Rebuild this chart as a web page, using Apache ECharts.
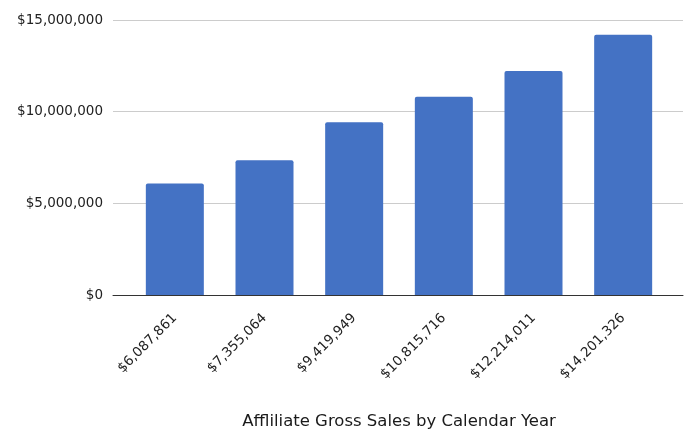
<!DOCTYPE html>
<html><head><meta charset="utf-8">
<script src="https://cdn.jsdelivr.net/npm/echarts@6/dist/echarts.min.js"></script>
<style>html,body{margin:0;padding:0;background:#fff}#c{width:690px;height:433px}</style>
</head><body><div id="c"></div>
<script>
const categories = ['$6,087,861','$7,355,064','$9,419,949','$10,815,716','$12,214,011','$14,201,326'];
const salesValues = [6087861, 7355064, 9419949, 10815716, 12214011, 14201326];
const yTicks = [0, 5000000, 10000000, 15000000];
const xTitle = 'Affliliate Gross Sales by Calendar Year';

const fmt = v => '$' + v.toLocaleString('en-US');
const chart = echarts.init(document.getElementById('c'));
const font = '"DejaVu Sans", sans-serif';
chart.setOption({
  animation: false,
  grid: [
    {left: 113, right: 7, top: 20, bottom: 138, outerBoundsMode: 'none', containLabel: false},
    {left: 130, right: 22, top: 20, bottom: 138, outerBoundsMode: 'none', containLabel: false}
  ],
  xAxis: [
    {gridIndex: 0, type: 'value', min: 0, max: 1, axisLabel: {show: false}, axisTick: {show: false}, splitLine: {show: false},
     axisLine: {show: true, onZero: false, lineStyle: {color: '#333', width: 1}}},
    {gridIndex: 1, type: 'category', data: categories, axisLine: {show: false}, axisTick: {show: false},
     axisLabel: {rotate: 45, margin: 21, fontSize: 13.5, color: '#222', fontFamily: font, interval: 0},
     name: xTitle, nameLocation: 'middle', nameGap: 118,
     nameTextStyle: {fontSize: 16.5, color: '#1a1a1a', fontFamily: font}}
  ],
  yAxis: [
    {gridIndex: 0, type: 'value', min: yTicks[0], max: yTicks[yTicks.length-1], interval: 5000000,
     axisLine: {show: false}, axisTick: {show: false},
     axisLabel: {formatter: fmt, fontSize: 13.5, color: '#222', fontFamily: font, margin: 10},
     splitLine: {lineStyle: {color: '#cccccc', width: 1}}},
    {gridIndex: 1, type: 'value', min: yTicks[0], max: yTicks[yTicks.length-1], interval: 5000000, show: false}
  ],
  series: [{
    type: 'bar', xAxisIndex: 1, yAxisIndex: 1, data: salesValues, z: 5,
    barWidth: 58, itemStyle: {color: '#4472C4', borderRadius: [2,2,0,0]}
  }]
});
</script></body></html>
